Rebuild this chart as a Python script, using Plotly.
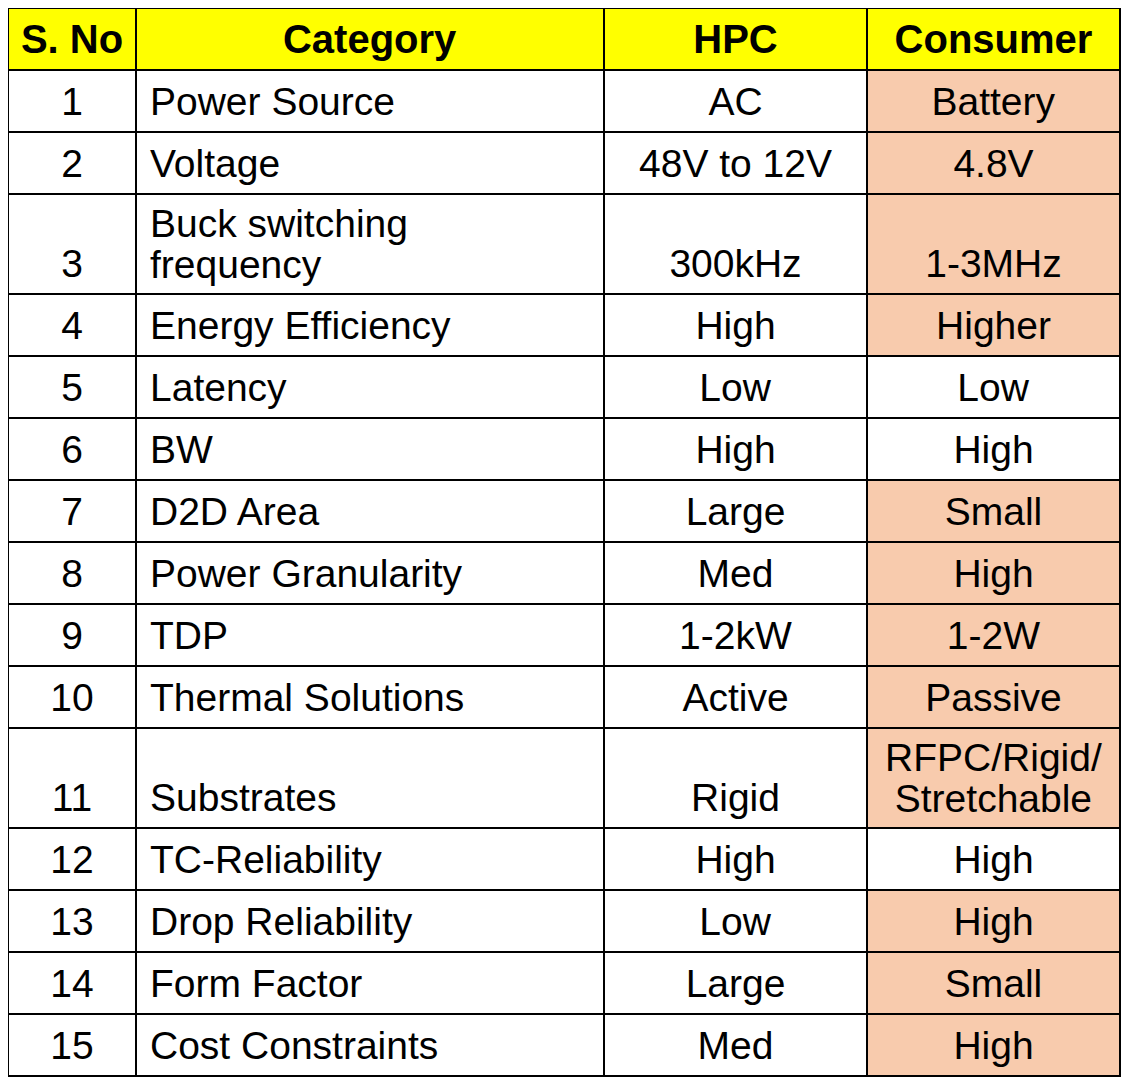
import plotly.graph_objects as go

headers = ["S. No", "Category", "HPC", "Consumer"]
s_no = [str(i) for i in range(1, 16)]
category = [["Power Source"], ["Voltage"], ["Buck switching", "frequency"], ["Energy Efficiency"],
            ["Latency"], ["BW"], ["D2D Area"], ["Power Granularity"], ["TDP"], ["Thermal Solutions"],
            ["Substrates"], ["TC-Reliability"], ["Drop Reliability"], ["Form Factor"], ["Cost Constraints"]]
hpc = ["AC", "48V to 12V", "300kHz", "High", "Low", "High", "Large", "Med", "1-2kW",
       "Active", "Rigid", "High", "Low", "Large", "Med"]
consumer = [["Battery"], ["4.8V"], ["1-3MHz"], ["Higher"], ["Low"], ["High"], ["Small"], ["High"],
            ["1-2W"], ["Passive"], ["RFPC/Rigid/", "Stretchable"], ["High"], ["High"], ["Small"], ["High"]]
consumer_highlight = [True, True, True, True, False, False, True, True, True, True,
                      True, False, True, True, True]

PEACH = "#F8CBAD"
WHITE = "#FFFFFF"
YELLOW = "#FFFF00"
FS = 39          # cell font size
HFS = 40         # header font size
BASE = 1.97      # base font size -> line step = 1.3 * BASE
N1_SINGLE = 14   # steps from anchor to text line in one-line rows
N1_TALL = 13     # steps from anchor to first text line in two-line rows
N2 = 16          # steps between two text lines

# approximate Helvetica/Arial advance widths (per 1000 em) for centering lines
W = {"R": 722, "F": 611, "P": 667, "C": 722, "S": 667, "/": 278, "i": 222, "l": 222,
     "t": 278, "r": 333, "c": 500, " ": 278, "-": 333}


def text_w(s, size):
    return sum(W.get(ch, 556) for ch in s) * size / 1000.0


ANCHOR = '<span style="font-size:1px">&nbsp;</span>'


def fmt(lines, row_lines, size=FS, bold=False, indent=0.0, center=False):
    if row_lines == 1:
        steps = N1_SINGLE
    else:
        steps = N1_TALL + (row_lines - len(lines)) * N2
    maxw = max(text_w(ln, size) for ln in lines)
    parts = []
    for ln in lines:
        t = f"<b>{ln}</b>" if bold else ln
        pad = indent
        if center and len(lines) > 1:
            pad += (maxw - text_w(ln, size)) / 2.0
        pre = ""
        if pad > 0.5:
            pre = f'<span style="font-size:{pad / 0.278:.1f}px">&nbsp;</span>'
        parts.append(pre + f'<span style="font-size:{size}px">{t}</span>')
    return ANCHOR + "<br>" * steps + ("<br>" * N2).join(parts)


row_lines = [max(1, len(c), len(k)) for c, k in zip(category, consumer)]

col_sno = [fmt([s], n) for s, n in zip(s_no, row_lines)]
col_cat = [fmt(c, n, indent=6) for c, n in zip(category, row_lines)]
col_hpc = [fmt([h], n) for h, n in zip(hpc, row_lines)]
col_con = [fmt(k, n, center=True) for k, n in zip(consumer, row_lines)]

fill_cols = [
    [WHITE] * 15,
    [WHITE] * 15,
    [WHITE] * 15,
    [PEACH if f else WHITE for f in consumer_highlight],
]

fig = go.Figure(go.Table(
    columnwidth=[128, 468, 263, 253],
    header=dict(
        values=[fmt([h], 1, size=HFS, bold=True) for h in headers],
        fill_color=YELLOW,
        line=dict(color="black", width=2),
        align="center",
        font=dict(family="Liberation Sans, Arial", size=BASE, color="black"),
        height=62,
    ),
    cells=dict(
        values=[col_sno, col_cat, col_hpc, col_con],
        fill=dict(color=fill_cols),
        line=dict(color="black", width=2),
        align=["center", "left", "center", "center"],
        font=dict(family="Liberation Sans, Arial", size=BASE, color="black"),
        height=62,
    ),
    domain=dict(x=[0, 1], y=[0, 1]),
))

fig.update_layout(
    width=1115, height=1077,
    margin=dict(l=0, r=3, t=0, b=0),
    paper_bgcolor="white",
)

fig.write_html("out.html")
